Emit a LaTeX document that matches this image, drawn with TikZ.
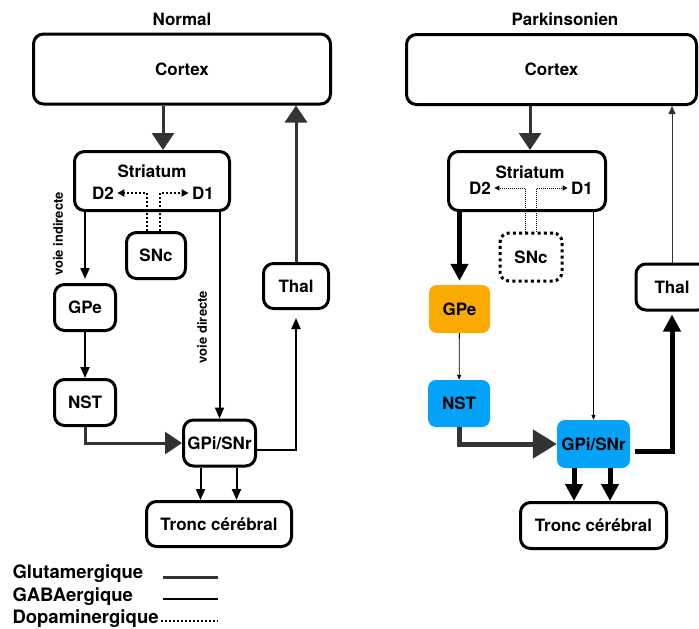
\documentclass[tikz,border=0pt]{standalone}
\usepackage{fontspec}
\setmainfont{TeX Gyre Heros}
\usepackage{tikz}
\usetikzlibrary{calc,arrows.meta}
\usepackage{xcolor}
\definecolor{gpeorange}{RGB}{250,170,0}
\definecolor{nstblue}{RGB}{5,162,250}

\begin{document}
\begin{tikzpicture}[x=1pt,y=-1pt]
  \useasboundingbox (0,0) rectangle (699,629);
  \tikzset{
    every node/.style={font=\fontsize{17}{20}\selectfont\bfseries},
    box/.style={draw,line width=3pt,rounded corners=10pt,inner sep=0pt},
    dotbox/.style={draw,line width=3pt,dash pattern=on 3pt off 3.2pt,rounded corners=9pt,inner sep=0pt},
    fillbox/.style={fill=#1,rounded corners=8pt,inner sep=0pt},
    small/.style={font=\fontsize{13}{15}\selectfont\bfseries},
    legend/.style={font=\fontsize{18.5}{22}\selectfont\bfseries},
    gaba/.style={line width=2pt,-{Triangle[width=9pt,length=11pt]}},
    gabathick/.style={line width=5pt,-{Triangle[width=17pt,length=17pt]}},
    gabathin/.style={line width=0.8pt,-{Triangle[width=4pt,length=5pt]}},
    glu/.style={draw=black!80,line width=3pt,-{Triangle[width=22pt,length=17pt]}},
    gluthick/.style={draw=black!80,line width=5pt,-{Triangle[width=28pt,length=24pt]}},
    gluthin/.style={draw=black!80,line width=1pt,-{Triangle[width=7pt,length=8pt]}},
    dopa/.style={line width=2pt,dash pattern=on 2pt off 2pt,-{Triangle[width=7pt,length=7pt]}},
    dopathin/.style={line width=0.8pt,dash pattern=on 1pt off 1pt,-{Triangle[width=5pt,length=5pt]}}
  }
  % normal
  \node (titleN) at (182,19) {Normal};
  \node[box,minimum width=297pt,minimum height=70pt] (cortexN) at (182,69) {Cortex};
  \node[box,minimum width=155pt,minimum height=59pt] (striatumN) at (152,181) {};
  \node (striatumNtxt) at (152,171) {Striatum};
  \node (d2N) at (103,193) {D2};
  \node (d1N) at (203,193) {D1};
  \node[box,minimum width=59pt,minimum height=46pt] (sncN) at (156,255.5) {SNc};
  \node[box,minimum width=61pt,minimum height=46pt] (gpeN) at (85,307.5) {GPe};
  \node[box,minimum width=61pt,minimum height=46pt] (nstN) at (85,402.5) {NST};
  \node[box,minimum width=72pt,minimum height=46pt] (gpiN) at (219.5,443) {GPi/SNr};
  \node[box,minimum width=65pt,minimum height=45pt] (thalN) at (296,286) {Thal};
  \node[box,minimum width=145pt,minimum height=45pt] (troncN) at (219,524) {Tronc cérébral};
  \node[small,rotate=90] (indN) at (58,234) {voie indirecte};
  \node[small,rotate=90] (dirN) at (202,327) {voie directe};

  \coordinate (inN) at (163,150);
  \draw[glu] (inN |- cortexN.south) -- (inN);
  \draw[dopa] ($(sncN.north)+(-9,0)$) |- (d2N.east);
  \draw[dopa] ($(sncN.north)+(4,0)$) |- (d1N.west);
  \draw[gaba,shorten >=4pt] (striatumN.south -| gpeN.north) -- (gpeN.north);
  \draw[gaba] (gpeN) -- (nstN);
  \draw[glu] (nstN.south) |- (gpiN.west);
  \draw[gaba] (striatumN.south -| gpiN.north) -- (gpiN.north);
  \draw[gaba,shorten >=8pt] ($(gpiN.east)+(0,7)$) -| (thalN.south);
  \draw[glu] (thalN.north) -- (thalN.north |- cortexN.south);
  \foreach \dx in {-19,17}{
    \coordinate (outN) at ($(gpiN.south)+(\dx,0)$);
    \draw[gaba] (outN) -- (outN |- troncN.north);
  }

  % parkinsonien
  \node (titleP) at (565,19) {Parkinsonien};
  \node[box,minimum width=290pt,minimum height=70pt] (cortexP) at (551.5,69.5) {Cortex};
  \node[box,minimum width=157pt,minimum height=59pt] (striatumP) at (527,181) {};
  \node (striatumPtxt) at (530,172) {Striatum};
  \node (d2P) at (480,188) {D2};
  \node (d1P) at (582,188) {D1};
  \node[dotbox,minimum width=62pt,minimum height=48pt] (sncP) at (531,257) {SNc};
  \node[fillbox=gpeorange,minimum width=61pt,minimum height=48pt] (gpeP) at (459.5,309) {GPe};
  \node[fillbox=nstblue,minimum width=62pt,minimum height=47pt] (nstP) at (459,403.5) {NST};
  \node[fillbox=nstblue,minimum width=73pt,minimum height=48pt] (gpiP) at (593.5,444) {GPi/SNr};
  \node[box,minimum width=72pt,minimum height=46pt] (thalP) at (672,287) {Thal};
  \node[box,minimum width=146pt,minimum height=46pt] (troncP) at (593.5,525.5) {Tronc cérébral};

  \coordinate (inP) at (530,150);
  \draw[glu] (inP |- cortexP.south) -- (inP);
  \draw[dopathin] ($(sncP.north)+(-6,0)$) |- (d2P.east);
  \draw[dopathin] ($(sncP.north)+(5,0)$) |- (d1P.west);
  \draw[gabathick,shorten >=4pt] (striatumP.south -| gpeP.north) -- (gpeP.north);
  \draw[gabathin] (gpeP) -- (nstP);
  \draw[gluthick] (nstP.south) |- (gpiP.west);
  \draw[gabathin] (striatumP.south -| gpiP.north) -- (gpiP.north);
  \draw[gabathick,shorten >=3pt] ($(gpiP.east)+(5,7)$) -| (thalP.south);
  \draw[gluthin] (thalP.north) -- (thalP.north |- cortexP.south);
  \foreach \dx in {-19.5,16.5}{
    \coordinate (outP) at ($(gpiP.south)+(\dx,0)$);
    \draw[gabathick] (outP) -- (outP |- troncP.north);
  }

  % legende
  \node[legend,anchor=west] (gluLeg) at (9,574) {Glutamergique};
  \node[legend,anchor=west] (gabaLeg) at (9,597) {GABAergique};
  \node[legend,anchor=west] (dopaLeg) at (9,619) {Dopaminergique};
  \draw[glu,-] (163,577) -- (218,577);
  \draw[gaba,-] (163,599) -- (218,599);
  \draw[dopa,line width=1.5pt,-] (161,621) -- (218,621);
\end{tikzpicture}
\end{document}
